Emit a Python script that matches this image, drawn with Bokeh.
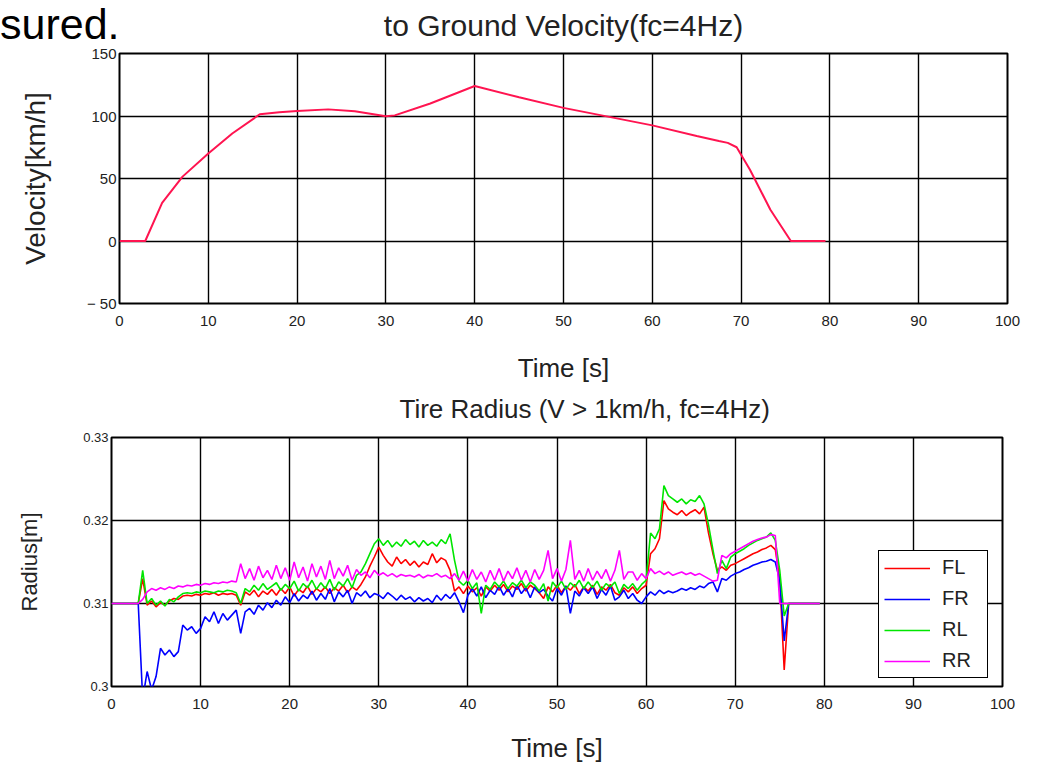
from bokeh.plotting import figure
from bokeh.models import (FixedTicker, Legend, LegendItem, Range1d, Title, Div)
from bokeh.layouts import column
from bokeh.embed import file_html
from bokeh.resources import INLINE

# ---------------- data ----------------
time_ticks = [0, 10, 20, 30, 40, 50, 60, 70, 80, 90, 100]
time_tick_labels = ["0", "10", "20", "30", "40", "50", "60", "70", "80", "90", "100"]
vel_ticks = [-50, 0, 50, 100, 150]
vel_tick_labels = ["\u2212 50", "0", "50", "100", "150"]
rad_ticks = [0.30, 0.31, 0.32, 0.33]
rad_tick_labels = ["0.3", "0.31", "0.32", "0.33"]

vel_t = [0, 2.9, 4.8, 7.1, 10, 12.7, 15.8, 18, 20, 23.5, 26.5, 30, 31, 35, 40,
         45, 50, 55, 60, 65, 67.5, 68.5, 69.5, 71, 73.3, 75.6, 79.5]
vel_v = [0, 0, 30.5, 51.5, 70, 86, 101.4, 103, 104, 105.3, 103.8, 99.8, 100.5, 110, 124,
         115, 106.5, 99.5, 92.5, 84, 80, 78.5, 75, 57, 25, 0, 0]

# sample times of the radius traces [s]
rad_t = ([0.0, 3.0] + [round(3.5 + 0.5 * i, 1) for i in range(145)] + [76.0, 79.5])

fl = [0.3100, 0.3100,
      0.3130, 0.3098, 0.3103, 0.3096, 0.3101, 0.3098, 0.3103, 0.3106, 0.3105, 0.3109,
      0.3110, 0.3109, 0.3111, 0.3110, 0.3112, 0.3111, 0.3113, 0.3110, 0.3112, 0.3111,
      0.3112, 0.3110, 0.3098, 0.3114, 0.3110, 0.3116, 0.3108, 0.3115, 0.3111, 0.3117,
      0.3110, 0.3118, 0.3112, 0.3120, 0.3109, 0.3117, 0.3113, 0.3121, 0.3111, 0.3118,
      0.3114, 0.3120, 0.3112, 0.3119, 0.3115, 0.3122, 0.3113, 0.3120, 0.3116, 0.3123,
      0.3132, 0.3145, 0.3156, 0.3168, 0.3158, 0.3150, 0.3145, 0.3156, 0.3148, 0.3153,
      0.3146, 0.3151, 0.3144, 0.3150, 0.3147, 0.3160, 0.3149, 0.3155, 0.3152, 0.3140,
      0.3115, 0.3120, 0.3112, 0.3121, 0.3114, 0.3119, 0.3109, 0.3120, 0.3115, 0.3122,
      0.3116, 0.3123, 0.3114, 0.3121, 0.3117, 0.3124, 0.3115, 0.3122, 0.3118, 0.3113,
      0.3106, 0.3120, 0.3114, 0.3122, 0.3113, 0.3121, 0.3116, 0.3123, 0.3112, 0.3120,
      0.3115, 0.3122, 0.3111, 0.3120, 0.3116, 0.3123, 0.3113, 0.3110, 0.3119, 0.3114,
      0.3120, 0.3112, 0.3118, 0.3122, 0.3160, 0.3166, 0.3178, 0.3224, 0.3214, 0.3210,
      0.3207, 0.3212, 0.3206, 0.3210, 0.3213, 0.3208, 0.3216, 0.3185, 0.3160, 0.3140,
      0.3144, 0.3140, 0.3146, 0.3148, 0.3151, 0.3154, 0.3157, 0.3160, 0.3162, 0.3165,
      0.3167, 0.3170, 0.3165, 0.3130, 0.3020,
      0.3100, 0.3100]

fr = [0.3100, 0.3100,
      0.2985, 0.3018, 0.2996, 0.3012, 0.3046, 0.3038, 0.3044, 0.3036, 0.3042, 0.3074,
      0.3068, 0.3072, 0.3064, 0.3070, 0.3084, 0.3078, 0.3090, 0.3076, 0.3088, 0.3080,
      0.3086, 0.3092, 0.3064, 0.3090, 0.3094, 0.3087, 0.3098, 0.3092, 0.3101, 0.3095,
      0.3104, 0.3098, 0.3108, 0.3101, 0.3112, 0.3103, 0.3110, 0.3106, 0.3115, 0.3104,
      0.3112, 0.3105, 0.3118, 0.3102, 0.3114, 0.3108, 0.3116, 0.3100, 0.3113, 0.3109,
      0.3115, 0.3107, 0.3112, 0.3110, 0.3106, 0.3113, 0.3109, 0.3104, 0.3110, 0.3105,
      0.3108, 0.3102, 0.3107, 0.3103, 0.3106, 0.3101, 0.3110, 0.3104, 0.3111, 0.3106,
      0.3113, 0.3102, 0.3089, 0.3110, 0.3118, 0.3109, 0.3120, 0.3107, 0.3116, 0.3111,
      0.3121, 0.3110, 0.3118, 0.3108, 0.3122, 0.3112, 0.3119, 0.3107, 0.3120, 0.3113,
      0.3117, 0.3109, 0.3103, 0.3118, 0.3110, 0.3121, 0.3088, 0.3115, 0.3109, 0.3119,
      0.3112, 0.3120, 0.3106, 0.3117, 0.3110, 0.3121, 0.3104, 0.3108, 0.3116, 0.3106,
      0.3112, 0.3104, 0.3100, 0.3108, 0.3114, 0.3110, 0.3116, 0.3112, 0.3115, 0.3113,
      0.3115, 0.3118, 0.3116, 0.3119, 0.3117, 0.3121, 0.3119, 0.3124, 0.3126, 0.3114,
      0.3130, 0.3128, 0.3133, 0.3136, 0.3138, 0.3141, 0.3143, 0.3146, 0.3148, 0.3150,
      0.3151, 0.3153, 0.3150, 0.3128, 0.3055,
      0.3100, 0.3100]

rl = [0.3100, 0.3100,
      0.3140, 0.3100, 0.3106, 0.3098, 0.3103, 0.3097, 0.3105, 0.3102, 0.3108, 0.3112,
      0.3113, 0.3112, 0.3114, 0.3113, 0.3115, 0.3114, 0.3113, 0.3115, 0.3114, 0.3116,
      0.3115, 0.3113, 0.3100, 0.3118, 0.3114, 0.3122, 0.3116, 0.3124, 0.3117, 0.3121,
      0.3125, 0.3116, 0.3123, 0.3118, 0.3127, 0.3115, 0.3124, 0.3119, 0.3128, 0.3117,
      0.3125, 0.3118, 0.3129, 0.3116, 0.3126, 0.3121, 0.3130, 0.3119, 0.3134, 0.3138,
      0.3148, 0.3160, 0.3172, 0.3178, 0.3170, 0.3176, 0.3168, 0.3174, 0.3169, 0.3177,
      0.3171, 0.3175, 0.3168, 0.3176, 0.3170, 0.3174, 0.3169, 0.3177, 0.3172, 0.3184,
      0.3152, 0.3127, 0.3122, 0.3128, 0.3118, 0.3125, 0.3088, 0.3122, 0.3117, 0.3126,
      0.3120, 0.3127, 0.3118, 0.3125, 0.3121, 0.3128, 0.3119, 0.3126, 0.3122, 0.3115,
      0.3124, 0.3103, 0.3126, 0.3119, 0.3127, 0.3117, 0.3125, 0.3120, 0.3128, 0.3118,
      0.3126, 0.3119, 0.3127, 0.3116, 0.3124, 0.3120, 0.3126, 0.3112, 0.3123, 0.3118,
      0.3124, 0.3116, 0.3123, 0.3128, 0.3185, 0.3178, 0.3190, 0.3242, 0.3230, 0.3226,
      0.3222, 0.3226, 0.3220, 0.3225, 0.3223, 0.3230, 0.3220, 0.3195, 0.3165, 0.3136,
      0.3152, 0.3142, 0.3156, 0.3160, 0.3163, 0.3166, 0.3170, 0.3173, 0.3176, 0.3178,
      0.3180, 0.3185, 0.3176, 0.3140, 0.3085,
      0.3100, 0.3100]

rr = [0.3100, 0.3100,
      0.3105, 0.3114, 0.3118, 0.3116, 0.3119, 0.3117, 0.3120, 0.3118, 0.3121, 0.3120,
      0.3122, 0.3121, 0.3123, 0.3122, 0.3124, 0.3123, 0.3125, 0.3124, 0.3126, 0.3125,
      0.3127, 0.3126, 0.3148, 0.3130, 0.3142, 0.3128, 0.3145, 0.3131, 0.3140, 0.3129,
      0.3146, 0.3130, 0.3143, 0.3128, 0.3150, 0.3131, 0.3144, 0.3127, 0.3148, 0.3132,
      0.3145, 0.3129, 0.3152, 0.3130, 0.3143, 0.3133, 0.3146, 0.3128, 0.3141, 0.3134,
      0.3138, 0.3131, 0.3140, 0.3134, 0.3137, 0.3133, 0.3136, 0.3132, 0.3135, 0.3133,
      0.3134, 0.3132, 0.3135, 0.3131, 0.3134, 0.3133, 0.3136, 0.3132, 0.3134, 0.3130,
      0.3136, 0.3128, 0.3139, 0.3127, 0.3141, 0.3129, 0.3138, 0.3126, 0.3140, 0.3128,
      0.3142, 0.3127, 0.3139, 0.3130, 0.3143, 0.3128, 0.3140, 0.3126, 0.3141, 0.3129,
      0.3140, 0.3164, 0.3130, 0.3142, 0.3127, 0.3141, 0.3176, 0.3129, 0.3140, 0.3127,
      0.3142, 0.3128, 0.3139, 0.3130, 0.3141, 0.3127, 0.3140, 0.3164, 0.3129, 0.3138,
      0.3138, 0.3128, 0.3136, 0.3130, 0.3142, 0.3136, 0.3139, 0.3135, 0.3138, 0.3134,
      0.3136, 0.3138, 0.3135, 0.3137, 0.3134, 0.3136, 0.3133, 0.3130, 0.3127, 0.3128,
      0.3158, 0.3155, 0.3160, 0.3163, 0.3166, 0.3169, 0.3172, 0.3175, 0.3177, 0.3179,
      0.3180, 0.3183, 0.3182, 0.3100, 0.3100,
      0.3100, 0.3100]

series_names = ["FL", "FR", "RL", "RR"]
series_values = [fl, fr, rl, rr]
series_colors = ["#ff0000", "#0000ff", "#00e600", "#ff00ff"]

for s in series_values:
    assert len(s) == len(rad_t), (len(s), len(rad_t))

TICK_FONT = "Liberation Sans"
LABEL_FONT = "Liberation Sans"
TITLE_FONT = "Liberation Sans"
TXT = "#222222"


def style(p, yticks, ylabels, ytick_size, ylabel_size):
    p.frame_align = False
    p.background_fill_color = "white"
    p.border_fill_color = "white"
    p.outline_line_color = "black"
    p.outline_line_width = 2
    p.outline_line_alpha = 1
    p.xaxis.ticker = FixedTicker(ticks=time_ticks)
    p.yaxis.ticker = FixedTicker(ticks=yticks)
    p.xaxis.major_label_overrides = dict(zip(time_ticks, time_tick_labels))
    p.yaxis.major_label_overrides = dict(zip(yticks, ylabels))
    for ax in (p.xaxis[0], p.yaxis[0]):
        ax.axis_line_color = None
        ax.major_tick_line_color = None
        ax.minor_tick_line_color = None
        ax.major_tick_out = 0
        ax.major_tick_in = 0
        ax.minor_tick_out = 0
        ax.minor_tick_in = 0
        ax.major_label_text_font = TICK_FONT
        ax.major_label_text_color = TXT
        ax.axis_label_text_font = LABEL_FONT
        ax.axis_label_text_font_style = "normal"
        ax.axis_label_text_color = TXT
    p.xaxis.axis_label_text_font_size = "26px"
    p.yaxis.axis_label_text_font_size = ylabel_size
    p.xaxis.major_label_text_font_size = "15px"
    p.yaxis.major_label_text_font_size = ytick_size
    p.yaxis.major_label_standoff = 3
    for g in (p.xgrid[0], p.ygrid[0]):
        g.grid_line_color = "black"
        g.grid_line_width = 1.4
        g.grid_line_alpha = 1


def add_title(p, text, size, standoff, gap, **kw):
    # a blank, tiny title next to the frame keeps the real title away from the frame
    p.add_layout(Title(text=" ", text_font_size="1px", standoff=gap), "above")
    p.add_layout(Title(text=text, text_font=TITLE_FONT, text_font_size=size,
                       text_font_style="normal", text_color=TXT, standoff=standoff, **kw),
                 "above")


# ---------------- top: velocity ----------------
p1 = figure(width=1025, height=385, output_backend="svg", toolbar_location=None,
            x_range=Range1d(0, 100), y_range=Range1d(-50, 150),
            min_border_left=119, min_border_right=18, min_border_top=53, min_border_bottom=81)
style(p1, vel_ticks, vel_tick_labels, "15px", "28px")
p1.border_fill_alpha = 0
p1.xaxis.axis_label = "Time [s]"
p1.yaxis.axis_label = "Velocity[km/h]"
p1.xaxis.major_label_standoff = 12
p1.xaxis.axis_label_standoff = 24
p1.yaxis.axis_label_standoff = 33
p1.line(vel_t, vel_v, line_color="#ff1450", line_width=2)
add_title(p1, "to Ground Velocity(fc=4Hz)", "30px", 2, 8, align="center")

# ---------------- bottom: tire radius ----------------
p2 = figure(width=1025, height=380, output_backend="svg", toolbar_location=None,
            x_range=Range1d(0, 100), y_range=Range1d(0.30, 0.33),
            min_border_left=111, min_border_right=23, min_border_top=52, min_border_bottom=79)
style(p2, rad_ticks, rad_tick_labels, "13px", "22px")
p2.xaxis.axis_label = "Time [s]"
p2.yaxis.axis_label = "Radius[m]"
p2.xaxis.major_label_standoff = 12
p2.xaxis.axis_label_standoff = 21
p2.yaxis.axis_label_standoff = 38

items = []
for name, vals, col in zip(series_names, series_values, series_colors):
    r = p2.line(rad_t, vals, line_color=col, line_width=1.6)
    items.append(LegendItem(label=name, renderers=[r]))

legend = Legend(items=items, location=(767, 8), orientation="vertical",
                border_line_color="black", border_line_width=1.5, border_line_alpha=1,
                background_fill_color="white", background_fill_alpha=1,
                label_text_font="Liberation Sans", label_text_font_size="20px",
                label_text_color=TXT,
                padding=5, spacing=8, margin=0, label_height=22, glyph_height=22,
                glyph_width=46, label_standoff=12, label_width=40)
p2.add_layout(legend)
add_title(p2, "Tire Radius (V > 1km/h, fc=4Hz)", "26px", 2, 10, align="left", offset=288)

# slide text that shows at the top-left corner of the picture
sured = Div(text="sured.", width=150, height=48, margin=(0, 0, -48, 0),
            styles={"font-family": "Liberation Sans", "font-size": "43px",
                    "line-height": "48px", "color": "black", "white-space": "nowrap"})

layout = column(sured, p1, p2, spacing=0)
open("out.html", "w").write(file_html(layout, INLINE))
